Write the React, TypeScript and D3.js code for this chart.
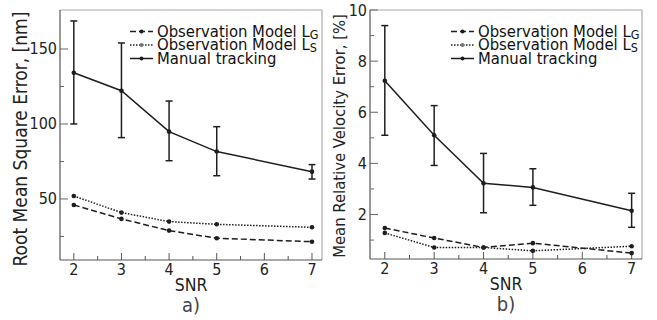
import * as d3 from "d3";

// SNR values on the x axis
const snr = [2, 3, 4, 5, 7];

// a) RMSE, nm
const rmseObsG = [46, 36.7, 28.9, 23.8, 21.5];
const rmseObsS = [52, 40.9, 34.9, 33.1, 31.1];
const rmseManual = [134.2, 122.2, 94.9, 81.6, 68.2];
const rmseManualLo = [100, 90.9, 75.5, 65.5, 63.3];
const rmseManualHi = [168.7, 154, 115.3, 98.2, 72.9];
const rmseTicks = [50, 100, 150];
const rmseMinor = [25, 75, 125];

// b) mean relative velocity error, %
const velObsG = [1.47, 1.08, 0.71, 0.88, 0.49];
const velObsS = [1.28, 0.71, 0.71, 0.58, 0.76];
const velManual = [7.23, 5.1, 3.22, 3.06, 2.15];
const velManualLo = [5.1, 3.92, 2.07, 2.36, 1.5];
const velManualHi = [9.39, 6.26, 4.39, 3.79, 2.83];
const velTicks = [2, 4, 6, 8, 10];
const velMinor = [1, 3, 5, 7, 9];

const xTicks = [2, 3, 4, 5, 6, 7];
const xMinor = [2.5, 3.5, 4.5, 5.5, 6.5];

const FONT = "'DejaVu Sans Condensed', 'DejaVu Sans', sans-serif";
const INK = "#1e1e1e";

interface PanelProps {
  left: number;
  right: number;
  top: number;
  bottom: number;
  xDomain: [number, number];
  yDomain: [number, number];
  yTicks: number[];
  yMinor: number[];
  obsG: number[];
  obsS: number[];
  manual: number[];
  lo: number[];
  hi: number[];
  yLabel: string;
  yLabelX: number;
  yLabelY: number;
  yLabelSize: number;
  legendX: number;
  tag: string;
}

const Panel = (p: PanelProps) => {
  const x = d3.scaleLinear().domain(p.xDomain).range([p.left, p.right]);
  const y = d3.scaleLinear().domain(p.yDomain).range([p.bottom, p.top]);
  const line = d3
    .line<number>()
    .x((_, i) => x(snr[i]))
    .y((d) => y(d));
  const cx = (p.left + p.right) / 2;

  const series = [
    { vals: p.obsG, dash: "6,3", label: "Observation Model L", sub: "G" },
    { vals: p.obsS, dash: "1.5,1.5", label: "Observation Model L", sub: "S" },
    { vals: p.manual, dash: "", label: "Manual tracking", sub: "" },
  ];

  return (
    <g>
      {/* frame */}
      <line x1={p.left} x2={p.right} y1={p.top} y2={p.top} stroke="#aaa" strokeWidth={1.2} />
      <line x1={p.right} x2={p.right} y1={p.top} y2={p.bottom} stroke="#aaa" strokeWidth={1.2} />
      <line x1={p.left} x2={p.left} y1={p.top} y2={p.bottom} stroke="#555" strokeWidth={1.2} />
      <line x1={p.left} x2={p.right} y1={p.bottom} y2={p.bottom} stroke="#555" strokeWidth={1.2} />

      {/* x ticks */}
      {xTicks.map((t) => (
        <g key={"xt" + t}>
          <line x1={x(t)} x2={x(t)} y1={p.bottom} y2={p.bottom - 7} stroke="#555" />
          <text x={x(t)} y={p.bottom + 15} fontSize={16} textAnchor="middle" fill="#222">
            {t}
          </text>
        </g>
      ))}
      {xMinor.map((t) => (
        <line key={"xm" + t} x1={x(t)} x2={x(t)} y1={p.bottom} y2={p.bottom - 4} stroke="#555" />
      ))}

      {/* y ticks */}
      {p.yTicks.map((t) => (
        <g key={"yt" + t}>
          <line x1={p.left} x2={p.left + 8} y1={y(t)} y2={y(t)} stroke="#666" />
          <text x={p.left - 3} y={y(t) + 5.5} fontSize={16} textAnchor="end" fill="#222">
            {t}
          </text>
        </g>
      ))}
      {p.yMinor.map((t) => (
        <line key={"ym" + t} x1={p.left} x2={p.left + 4} y1={y(t)} y2={y(t)} stroke="#666" />
      ))}

      {/* axis titles */}
      <text x={cx} y={p.bottom + 31} fontSize={17.5} textAnchor="middle" fill="#222">
        SNR
      </text>
      <text x={cx} y={p.bottom + 52} fontSize={20} textAnchor="middle" fill="#444">
        {p.tag}
      </text>
      <text
        transform={`translate(${p.yLabelX},${p.yLabelY}) rotate(-90)`}
        fontSize={p.yLabelSize}
        textAnchor="middle"
        fill="#222"
      >
        {p.yLabel}
      </text>

      {/* error bars */}
      {p.manual.map((_, i) => (
        <g key={"eb" + i} stroke={INK} strokeWidth={1.5}>
          <line x1={x(snr[i])} x2={x(snr[i])} y1={y(p.lo[i])} y2={y(p.hi[i])} />
          <line x1={x(snr[i]) - 3.5} x2={x(snr[i]) + 3.5} y1={y(p.lo[i])} y2={y(p.lo[i])} />
          <line x1={x(snr[i]) - 3.5} x2={x(snr[i]) + 3.5} y1={y(p.hi[i])} y2={y(p.hi[i])} />
        </g>
      ))}

      {/* series */}
      {series.map((s, k) => (
        <g key={"s" + k}>
          <path
            d={line(s.vals) ?? ""}
            fill="none"
            stroke={INK}
            strokeWidth={1.5}
            strokeDasharray={s.dash || undefined}
          />
          {s.vals.map((v, i) => (
            <circle key={i} cx={x(snr[i])} cy={y(v)} r={2.3} fill={INK} />
          ))}
        </g>
      ))}

      {/* legend */}
      {series.map((s, k) => {
        const ly = 36.5 + k * 13.5;
        return (
          <g key={"lg" + k}>
            <line
              x1={p.legendX}
              x2={p.legendX + 23}
              y1={ly - 5}
              y2={ly - 5}
              stroke={INK}
              strokeWidth={1.5}
              strokeDasharray={s.dash || undefined}
            />
            <circle cx={p.legendX + 11.5} cy={ly - 5} r={2} fill={k === 1 ? "#777" : INK} />
            <text x={p.legendX + 27} y={ly} fontSize={16.5} fill="#111">
              {s.label}
              {s.sub && (
                <tspan fontSize={12.5} dy={2}>
                  {s.sub}
                </tspan>
              )}
            </text>
          </g>
        );
      })}
    </g>
  );
};

const App = () => (
  <svg
    width={657}
    height={320}
    style={{ position: "absolute", left: 0, top: 0, background: "#fff", fontFamily: FONT }}
  >
    <Panel
      left={60}
      right={322}
      top={10}
      bottom={260}
      xDomain={[1.71, 7.21]}
      yDomain={[9.3, 176]}
      yTicks={rmseTicks}
      yMinor={rmseMinor}
      obsG={rmseObsG}
      obsS={rmseObsS}
      manual={rmseManual}
      lo={rmseManualLo}
      hi={rmseManualHi}
      yLabel="Root Mean Square Error, [nm]"
      yLabelX={27}
      yLabelY={139}
      yLabelSize={19}
      legendX={130}
      tag="a)"
    />
    <Panel
      left={370}
      right={642}
      top={10}
      bottom={259}
      xDomain={[1.7, 7.21]}
      yDomain={[0.26, 10]}
      yTicks={velTicks}
      yMinor={velMinor}
      obsG={velObsG}
      obsS={velObsS}
      manual={velManual}
      lo={velManualLo}
      hi={velManualHi}
      yLabel="Mean Relative Velocity Error, [%]"
      yLabelX={345}
      yLabelY={136}
      yLabelSize={16.5}
      legendX={451}
      tag="b)"
    />
  </svg>
);

export default App;
